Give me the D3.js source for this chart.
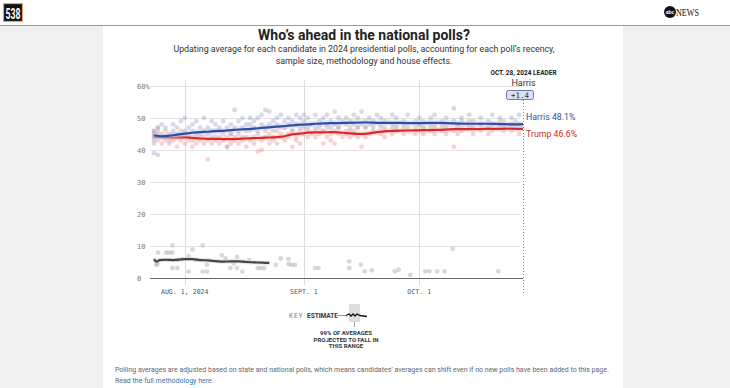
<!DOCTYPE html>
<html>
<head>
<meta charset="utf-8">
<script src="https://cdn.jsdelivr.net/npm/d3@7"></script>
<style>
  body { margin: 0; background: #f0f0f0; }
  svg { display: block; }
</style>
</head>
<body>
<svg id="chart" width="730" height="388"></svg>
<script>
// day offsets are counted from July 24, 2024
var startDate = new Date(2024, 6, 24);
var endDate = new Date(2024, 9, 28);
var tickDates = [new Date(2024, 7, 1), new Date(2024, 8, 1), new Date(2024, 9, 1)];
var tickLabels = ["AUG. 1, 2024", "SEPT. 1", "OCT. 1"];
var yTicks = [0, 10, 20, 30, 40, 50, 60];

var avgDays = [0, 2, 4, 6, 8, 10, 12, 14, 16, 18, 20, 22, 24, 26, 28, 30, 32, 34, 36, 38, 40, 42, 44, 46, 48, 50, 54, 56, 58, 62, 66, 70, 74, 78, 82, 86, 90, 93, 96];
var harrisAvg = [44.6, 44.3, 44.5, 44.8, 45.1, 45.4, 45.6, 45.7, 45.9, 46.0, 46.2, 46.4, 46.5, 46.7, 46.9, 47.1, 47.3, 47.5, 47.7, 47.9, 48.0, 48.2, 48.3, 48.4, 48.4, 48.5, 48.6, 48.6, 48.5, 48.5, 48.4, 48.4, 48.5, 48.3, 48.2, 48.2, 48.1, 48.0, 48.1];
var trumpAvg = [44.2, 44.0, 43.9, 43.9, 44.0, 43.8, 43.6, 43.5, 43.5, 43.4, 43.4, 43.5, 43.6, 43.7, 43.8, 43.9, 44.0, 44.3, 44.9, 45.1, 45.4, 45.5, 45.5, 45.6, 45.5, 45.3, 45.0, 45.2, 45.6, 46.0, 46.1, 46.2, 46.3, 46.5, 46.5, 46.6, 46.6, 46.7, 46.6];

var kennedyDays = [0, 0.7, 1.5, 3, 5, 8, 10, 12, 14, 16, 18, 20, 22, 24, 26, 28, 30];
var kennedyAvg = [5.8, 5.1, 5.6, 5.7, 5.6, 5.9, 5.9, 5.6, 5.5, 5.3, 5.1, 5.2, 5.2, 5.0, 4.9, 4.8, 4.7];

var harrisPolls = [[0,46],[0,44],[0,43],[0,39],[0,45],[1,38.5],[1,47],[1,46],[2,45],[2,48],[3,44],[3,47],[4,45],[4,43],[5,46],[5,48],[5,44],[6,47],[6,45],[7,44],[7,49],[8,46],[8,50],[8,45],[9,47],[9,44],[10,48],[10,46],[11,45],[11,49],[12,47],[12,44],[13,50],[13,46],[14,47],[14,45],[15,49],[15,46],[16,44],[16,48],[17,47],[17,46],[18,49],[19,41],[19,47],[20,48],[20,45],[21,52.5],[21,47],[22,46],[22,49],[23,50],[23,47],[24,48],[24,46],[25,50],[25,48],[26,47],[26,49],[27,50],[27,46],[28,48],[28,51],[29,52.5],[29,47],[30,52],[30,48],[31,49],[31,46],[32,50],[32,48],[33,47],[33,51],[34,49],[34,47],[35,50],[35,48],[36,46],[36,49],[37,51],[37,48],[38,50],[38,47],[39,49],[39,51],[40,47],[40,50],[41,48],[42,51],[42,47],[43,49],[43,48],[44,50],[44,46],[45,48],[45,51],[46,49],[46,47],[47,52],[47,48],[48,50],[48,47],[49,49],[50,48],[50,50],[51,46],[51,49],[52,51],[52,48],[53,47],[53,50],[54,52],[54,48],[55,49],[55,47],[56,50],[56,48],[57,47],[57,49],[58,51],[59,48],[59,50],[60,49],[60,47],[62,48],[62,51],[63,50],[63,47],[65,49],[65,48],[66,51],[66,47],[68,49],[69,48],[69,50],[70,47],[70,49],[72,50],[72,48],[73,51],[73,47],[75,49],[75,48],[76,47],[76,50],[78,53],[78,49],[79,48],[79,47],[80,50],[80,49],[82,48],[82,51],[83,47],[83,49],[85,50],[85,48],[87,49],[87,47],[88,51],[88,48],[90,48],[90,50],[91,47],[91,49],[93,50],[93,48],[94,49],[95,51],[95,48]];

var trumpPolls = [[0,44],[0,46],[0,42],[0,45],[1,43],[1,47],[1,45],[2,44],[2,42],[3,46],[3,43],[4,42],[4,44],[5,45],[5,43],[6,41],[6,44],[7,43],[7,46],[8,42],[8,44],[9,45],[9,43],[10,41],[10,43],[11,44],[11,42],[12,43],[12,45],[13,42],[13,44],[14,37],[14,43],[15,44],[15,42],[16,43],[16,46],[17,42],[17,44],[18,45],[18,43],[19,44],[19,41],[20,42],[20,45],[21,43],[21,44],[22,45],[22,42],[23,44],[23,43],[24,41],[24,44],[25,46],[25,43],[26,42],[26,44],[27,39.5],[27,45],[28,40],[28,43],[29,44],[29,46],[30,42],[30,45],[31,43],[31,44],[32,46],[32,42],[33,44],[33,45],[34,47],[34,43],[35,45],[35,44],[36,41],[36,46],[37,44],[37,43],[38,46],[38,42],[39,45],[39,47],[40,44],[40,46],[41,45],[42,46],[42,44],[43,47],[43,45],[44,42],[44,46],[45,44],[45,47],[46,45],[46,43],[47,46],[47,42],[48,47],[48,45],[49,44],[50,46],[50,45],[51,47],[51,44],[52,45],[52,46],[53,44],[53,47],[54,41],[54,45],[55,47],[55,44],[56,45],[57,46],[57,48],[59,45],[59,47],[60,46],[60,44],[62,47],[62,45],[63,46],[63,48],[65,45],[65,47],[66,46],[68,47],[68,45],[69,46],[69,48],[70,45],[70,47],[72,47],[72,46],[73,48],[73,45],[75,46],[75,47],[76,45],[76,48],[78,41],[78,46],[79,48],[79,45],[80,46],[80,47],[82,47],[82,49],[83,45],[83,47],[85,48],[85,46],[87,47],[87,45],[88,46],[88,48],[90,47],[90,49],[91,46],[91,47],[93,48],[93,46],[94,47],[95,45],[95,48]];

var kennedyPolls = [[0.3,5.6],[0.7,4.1],[0.9,4.5],[1.1,7.9],[3.2,7.9],[4.0,7.9],[4.8,7.9],[4.8,10.2],[4.8,3.1],[6.1,3.1],[6.1,5.6],[7.4,5.9],[9,2],[9,6.8],[10,8.9],[10.9,5.6],[12.7,10.2],[12.7,2],[13.8,2],[13.8,4.1],[17.7,7.1],[18.6,6.1],[19.9,3.1],[20.7,4.6],[21.6,6.6],[21.6,3.1],[23,2],[24.8,5.6],[27,3.1],[27.8,3.1],[28.7,3.1],[31.7,4.1],[33,6.1],[35,5.9],[35,4.4],[35.8,4.1],[36.7,4.1],[41.9,3.1],[42.8,3.1],[50.8,5.2],[50.8,3.1],[53.8,4.2],[54.8,2.1],[56.7,2.4],[62.7,2.1],[63.7,2.6],[66.7,1.0],[70.6,2.1],[71.7,2.1],[73.7,2.1],[75.6,2.1],[77.7,9.1],[89.6,2.1]];

var svg = d3.select("#chart");
var font = "Roboto, 'Noto Sans', sans-serif";
var mono = "'DejaVu Sans Mono', 'Liberation Mono', monospace";

function dayDate(d) { return d3.timeHour.offset(startDate, d * 24); }

// page header
svg.append("rect").attr("x", 0).attr("y", 0).attr("width", 730).attr("height", 25).attr("fill", "#fff");
svg.append("line").attr("x1", 0).attr("x2", 730).attr("y1", 25.5).attr("y2", 25.5).attr("stroke", "#9a9a9a");
svg.append("rect").attr("x", 103).attr("y", 26).attr("width", 520).attr("height", 362).attr("fill", "#fff");

svg.append("rect").attr("x", 3.5).attr("y", 3.5).attr("width", 19).attr("height", 18)
   .attr("fill", "#111").attr("stroke", "#f0a070").attr("stroke-width", 1.2);
svg.append("text").attr("x", 13).attr("y", 18.5).attr("text-anchor", "middle")
   .style("font", "bold 14px 'Liberation Sans Narrow', " + font).style("fill", "#fff")
   .attr("textLength", 15).attr("lengthAdjust", "spacingAndGlyphs").text("538");
svg.append("circle").attr("cx", 670).attr("cy", 12).attr("r", 6).attr("fill", "#111");
svg.append("text").attr("x", 670).attr("y", 14).attr("text-anchor", "middle")
   .style("font", "bold 5px sans-serif").style("fill", "#fff").text("abc");
svg.append("text").attr("x", 676).attr("y", 15.5)
   .style("font", "10px 'Liberation Serif', serif").style("fill", "#111")
   .attr("textLength", 23).attr("lengthAdjust", "spacingAndGlyphs").text("NEWS");

// titles
svg.append("text").attr("x", 364).attr("y", 40).attr("text-anchor", "middle")
   .style("font", "bold 14px " + font).style("fill", "#222")
   .text("Who\u2019s ahead in the national polls?");
var subtitle = ["Updating average for each candidate in 2024 presidential polls, accounting for each poll\u2019s recency,",
                "sample size, methodology and house effects."];
svg.selectAll(".sub").data(subtitle).enter().append("text")
   .attr("x", 364).attr("y", function(d, i) { return 52 + i * 12; })
   .attr("text-anchor", "middle").style("font", "8.8px " + font).style("fill", "#333")
   .text(function(d) { return d; });

// scales
var x = d3.scaleTime().domain([startDate, endDate]).range([154, 523]);
var y = d3.scaleLinear().domain([0, 60]).range([278, 86]);

// grid
svg.selectAll(".grid").data(yTicks.filter(function(d) { return d > 0; })).enter().append("line")
   .attr("x1", 150).attr("x2", 520)
   .attr("y1", function(d) { return y(d) + 0.5; }).attr("y2", function(d) { return y(d) + 0.5; })
   .attr("stroke", "#e2e2e2");
svg.selectAll(".vgrid").data(tickDates).enter().append("line")
   .attr("x1", function(d) { return Math.round(x(d)) + 0.5; })
   .attr("x2", function(d) { return Math.round(x(d)) + 0.5; })
   .attr("y1", 80).attr("y2", 285)
   .attr("stroke", "#dcdcdc");
svg.selectAll(".ylab").data(yTicks).enter().append("text")
   .attr("x", 137).attr("y", function(d) { return y(d) + 3; })
   .style("font", "7px " + mono).style("fill", "#777")
   .text(function(d) { return d === 60 ? "60%" : d; });
svg.selectAll(".xlab").data(tickDates).enter().append("text")
   .attr("x", function(d) { return x(d); }).attr("y", 294).attr("text-anchor", "middle")
   .style("font", "6.6px " + mono).style("fill", "#555")
   .text(function(d, i) { return tickLabels[i]; });

// poll dots
function dots(data, color, op) {
  svg.append("g").selectAll("circle").data(data).enter().append("circle")
     .attr("cx", function(d) { return x(dayDate(d[0])); })
     .attr("cy", function(d) { return y(d[1]); })
     .attr("r", 2.4)
     .attr("fill", color).attr("fill-opacity", op);
}
dots(kennedyPolls, "#a9a9a9", 0.45);
dots(trumpPolls, "#ef8f8f", 0.4);
dots(harrisPolls, "#9aa0c8", 0.4);

// bands and averages
function series(days, vals, color, band, spread) {
  var rows = days.map(function(d, i) { return {date: dayDate(d), v: vals[i]}; });
  var area = d3.area().curve(d3.curveMonotoneX)
      .x(function(d) { return x(d.date); })
      .y0(function(d) { return y(d.v - spread); })
      .y1(function(d) { return y(d.v + spread); });
  svg.append("path").datum(rows).attr("d", area).attr("fill", band).attr("fill-opacity", 0.45);
  var line = d3.line().curve(d3.curveMonotoneX)
      .x(function(d) { return x(d.date); })
      .y(function(d) { return y(d.v); });
  svg.append("path").datum(rows).attr("d", line).attr("fill", "none")
     .attr("stroke", color).attr("stroke-width", 2.2);
}
series(kennedyDays, kennedyAvg, "#444", "#cfcfcf", 0.7);
series(avgDays, trumpAvg, "#d42a2a", "#f6c4c4", 1.0);
series(avgDays, harrisAvg, "#2d4ea0", "#c6d0ee", 1.0);

// baseline
svg.append("line").attr("x1", 150).attr("x2", 523).attr("y1", y(0) + 0.5).attr("y2", y(0) + 0.5)
   .attr("stroke", "#666");

// leader line and labels
var lx = Math.round(x(endDate)) + 0.5;
svg.append("line").attr("x1", lx).attr("x2", lx).attr("y1", 100).attr("y2", 295)
   .attr("stroke", "#888").attr("stroke-dasharray", "1,2");
svg.append("text").attr("x", lx).attr("y", 75).attr("text-anchor", "middle")
   .style("font", "bold 6.5px " + font).style("fill", "#222").text("OCT. 28, 2024 LEADER");
svg.append("text").attr("x", lx).attr("y", 85.5).attr("text-anchor", "middle")
   .style("font", "9px " + font).style("fill", "#333").text("Harris");
svg.append("rect").attr("x", 506.5).attr("y", 90.5).attr("width", 27).attr("height", 9).attr("rx", 2)
   .attr("fill", "#dbe1f3").attr("stroke", "#6a77a8");
svg.append("text").attr("x", 520).attr("y", 97.8).attr("text-anchor", "middle")
   .style("font", "7.5px " + mono).style("fill", "#333").text("+1.4");

var endH = harrisAvg[harrisAvg.length - 1], endT = trumpAvg[trumpAvg.length - 1];
svg.append("text").attr("x", 526).attr("y", 120)
   .style("font", "8.8px " + font).style("fill", "#3352a3").text("Harris " + endH + "%");
svg.append("text").attr("x", 526).attr("y", 137)
   .style("font", "8.8px " + font).style("fill", "#cc2b2b").text("Trump " + endT + "%");

// key
svg.append("text").attr("x", 289).attr("y", 318).style("font", "6.5px " + font)
   .style("letter-spacing", "1px").style("fill", "#777").text("KEY");
svg.append("text").attr("x", 307).attr("y", 318).style("font", "bold 6.5px " + font)
   .style("fill", "#333").text("ESTIMATE");
svg.append("rect").attr("x", 349).attr("y", 304).attr("width", 11).attr("height", 18).attr("fill", "#ddd");
svg.append("line").attr("x1", 336).attr("x2", 346).attr("y1", 315.5).attr("y2", 315.5).attr("stroke", "#999");
svg.append("path").attr("d", "M346,315.5 L349,314 L351,316 L353,314 L355,316 L357,314 L360,315.5 L367,316.5")
   .attr("fill", "none").attr("stroke", "#111").attr("stroke-width", 1.3);
svg.append("line").attr("x1", 354.5).attr("x2", 354.5).attr("y1", 322).attr("y2", 327).attr("stroke", "#999");
var keyLines = ["99% OF AVERAGES", "PROJECTED TO FALL IN", "THIS RANGE"];
svg.selectAll(".keyl").data(keyLines).enter().append("text")
   .attr("x", 346).attr("y", function(d, i) { return 335 + i * 6.5; }).attr("text-anchor", "middle")
   .style("font", "bold 6px " + font).style("fill", "#333").text(function(d) { return d; });

// footnote
svg.append("text").attr("x", 115).attr("y", 372).style("font", "7px " + font).style("fill", "#666")
   .text("Polling averages are adjusted based on state and national polls, which means candidates\u2019 averages can shift even if no new polls have been added to this page.");
var f2 = svg.append("text").attr("x", 115).attr("y", 383).style("font", "7px " + font).style("fill", "#666");
f2.append("tspan").text("Read the ");
f2.append("tspan").style("fill", "#2a7ab8").text("full methodology here");
f2.append("tspan").text(".");
</script>
</body>
</html>
